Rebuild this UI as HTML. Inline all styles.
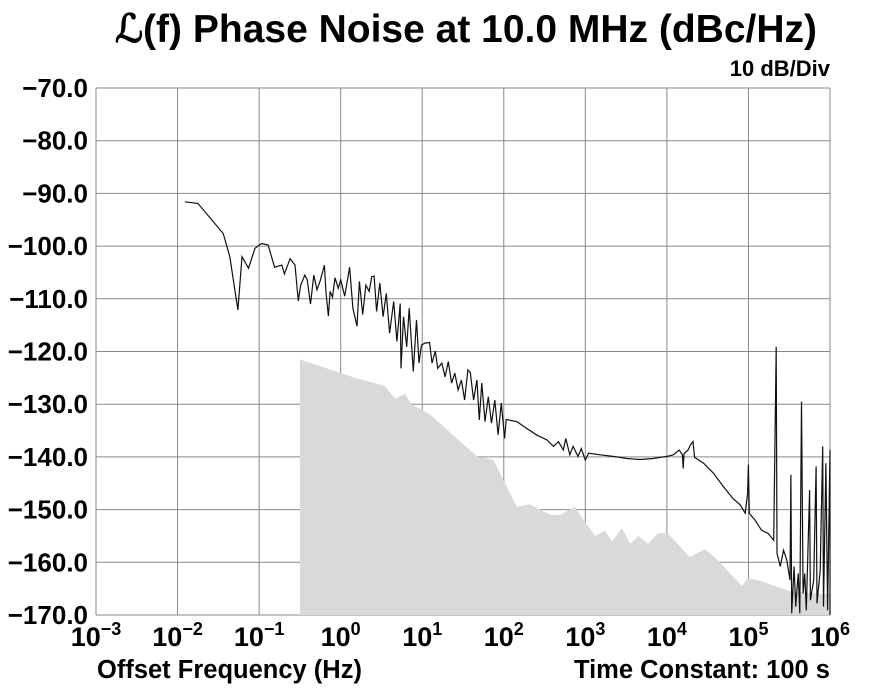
<!DOCTYPE html>
<html><head><meta charset="utf-8"><style>
html,body{margin:0;padding:0;background:#fff;}
svg{display:block;font-family:"Liberation Sans",Arial,sans-serif;font-weight:bold;}
</style></head><body>
<svg id="chart" width="869" height="695" viewBox="0 0 869 695" xmlns="http://www.w3.org/2000/svg">
<text x="466" y="42" font-size="39" text-anchor="middle">ℒ(f) Phase Noise at 10.0 MHz (dBc/Hz)</text>
<text x="830" y="76" font-size="22" text-anchor="end">10 dB/Div</text>
<g id="grid"></g>
<g id="area"></g>
<g id="line"></g>
<g id="yticks"></g>
<g id="xticks"></g>
<text x="97" y="678" font-size="25.5">Offset Frequency (Hz)</text>
<text x="830" y="678" font-size="25.5" text-anchor="end">Time Constant: 100 s</text>
</svg>
<script>
const xDecades=[-3,-2,-1,0,1,2,3,4,5,6];
const yTicks=[-70,-80,-90,-100,-110,-120,-130,-140,-150,-160,-170];
const areaLogF=[-0.5,0.18,0.54,0.67,0.79,0.87,1.10,1.46,1.68,1.87,2.16,2.32,2.57,2.69,2.87,3.12,3.24,3.33,3.45,3.55,3.65,3.77,3.89,4.01,4.28,4.47,4.65,4.83,4.92,4.99,5.14,5.51,5.88,6.0];
const areaDb=[-121.5,-125,-126.5,-129,-128,-130,-132,-137,-140,-140.5,-149.5,-149,-151,-151,-149.5,-155,-154,-156,-153.5,-156.5,-155,-156.5,-154.5,-154.5,-159,-157.5,-160,-163,-164.5,-163,-163.5,-165.5,-166,-166];
const lineLogF=[-1.91,-1.75,-1.44,-1.36,-1.26,-1.21,-1.13,-1.05,-0.97,-0.89,-0.81,-0.72,-0.69,-0.62,-0.56,-0.52,-0.49,-0.44,-0.41,-0.37,-0.33,-0.29,-0.25,-0.2,-0.18,-0.15,-0.13,-0.1,-0.07,-0.03,0.0,0.05,0.11,0.15,0.2,0.23,0.27,0.31,0.35,0.38,0.41,0.44,0.48,0.52,0.56,0.6,0.65,0.69,0.73,0.74,0.77,0.81,0.84,0.89,0.93,0.96,0.99,1.03,1.09,1.12,1.16,1.19,1.24,1.28,1.32,1.36,1.4,1.44,1.48,1.52,1.56,1.59,1.63,1.67,1.7,1.73,1.77,1.81,1.85,1.89,1.93,1.97,2.01,2.03,2.16,2.28,2.4,2.53,2.61,2.67,2.73,2.76,2.81,2.85,2.91,2.95,3.0,3.04,3.18,3.34,3.51,3.67,3.83,4.0,4.08,4.15,4.19,4.2,4.21,4.26,4.29,4.32,4.34,4.45,4.57,4.69,4.81,4.9,4.96,4.99,5.0,5.01,5.08,5.16,5.24,5.31,5.34,5.35,5.39,5.43,5.47,5.51,5.52,5.53,5.56,5.58,5.61,5.63,5.65,5.67,5.69,5.71,5.75,5.76,5.8,5.83,5.84,5.88,5.91,5.92,5.95,5.97,6.0,6.0];
const lineDb=[-91.6,-91.9,-97.6,-102,-112.1,-102,-104.2,-100.4,-99.5,-99.8,-104,-103.6,-105.3,-102.4,-103.6,-110.4,-107.4,-105.5,-106.4,-111,-105.5,-108.3,-106.5,-103.6,-108.8,-113.3,-108.6,-109.7,-106,-108,-106.4,-109.5,-104,-111.8,-115.2,-106.7,-113,-107.4,-108.6,-105.8,-105.7,-112.4,-107,-113.4,-109,-116.5,-110.5,-118.1,-110.9,-123.2,-113.4,-119.1,-111.8,-123.8,-114,-122.2,-118.8,-118.4,-118.3,-122.2,-119.9,-123.2,-122.2,-124.8,-121.9,-126,-124.1,-127.3,-125.4,-129.2,-123.5,-124,-129.2,-125.4,-133,-126,-133.3,-128.6,-133.6,-129.2,-135.8,-129.8,-136.5,-132.9,-133.3,-134.6,-135.8,-136.8,-138,-137.1,-138.7,-136.5,-139.6,-138,-139.9,-138.4,-140.6,-139.3,-139.6,-139.9,-140.3,-140.5,-140.3,-139.9,-139.6,-138.7,-139.6,-142.2,-139.4,-138.7,-137.7,-137.1,-140.1,-141.2,-143.1,-145.6,-147.9,-149.1,-150.7,-146.9,-141.5,-150.7,-152,-153.9,-154.5,-155.8,-119.1,-158.3,-160.8,-157.7,-159.6,-163.4,-143.4,-169.7,-160.8,-168.4,-162.1,-169.7,-129.5,-165.9,-162.1,-169.1,-146.3,-167.2,-163.4,-141.8,-167.8,-161.5,-138,-168.4,-141.2,-169.1,-138.7,-170];

const NS='http://www.w3.org/2000/svg';
const L=96,R=830,T=88,B=615;
const xS=v=>L+(v+3)/9*(R-L);
const yS=v=>T+(-70-v)/100*(B-T);
function mk(tag,attrs,parent){const e=document.createElementNS(NS,tag);for(const k in attrs)e.setAttribute(k,attrs[k]);parent.appendChild(e);return e;}
const grid=document.getElementById('grid');
xDecades.forEach(d=>{
  const g=mk('line',{x1:xS(d),x2:xS(d),y1:T,y2:B,stroke:'#8a8a8a','stroke-width':1},grid);
  
  
});
yTicks.forEach(v=>{
  const g=mk('line',{x1:L,x2:R,y1:yS(v),y2:yS(v),stroke:'#8a8a8a','stroke-width':1},grid);
  
  
});
const area=document.getElementById('area');
let ap='M'+xS(areaLogF[0])+','+yS(-170);
areaLogF.forEach((f,i)=>{ap+=' L'+xS(f).toFixed(1)+','+yS(areaDb[i]).toFixed(1);});
ap+=' L'+xS(areaLogF[areaLogF.length-1])+','+yS(-170)+' Z';
const a=mk('path',{d:ap,fill:'#d9d9d9',stroke:'none'},area);


const line=document.getElementById('line');
let lp='';
lineLogF.forEach((f,i)=>{lp+=(i?' L':'M')+xS(f).toFixed(1)+','+yS(Math.max(-170,lineDb[i])).toFixed(1);});
const p=mk('path',{d:lp,fill:'none',stroke:'#111','stroke-width':1.2},line);


const yt=document.getElementById('yticks');
yTicks.forEach(v=>{
  const t=mk('text',{x:88,y:yS(v)+9,'font-size':26,'text-anchor':'end'},yt);
  t.textContent='\u2212'+Math.abs(v).toFixed(1);
  
  
});
const xt=document.getElementById('xticks');
xDecades.forEach(d=>{
  const t=mk('text',{x:xS(d),y:646,'font-size':27,'text-anchor':'middle'},xt);
  const exp=d<0?'\u2212'+Math.abs(d):String(d);
  t.innerHTML='10<tspan dy="-11" font-size="18">'+exp+'</tspan>';
  
  
});
</script>
</body></html>
